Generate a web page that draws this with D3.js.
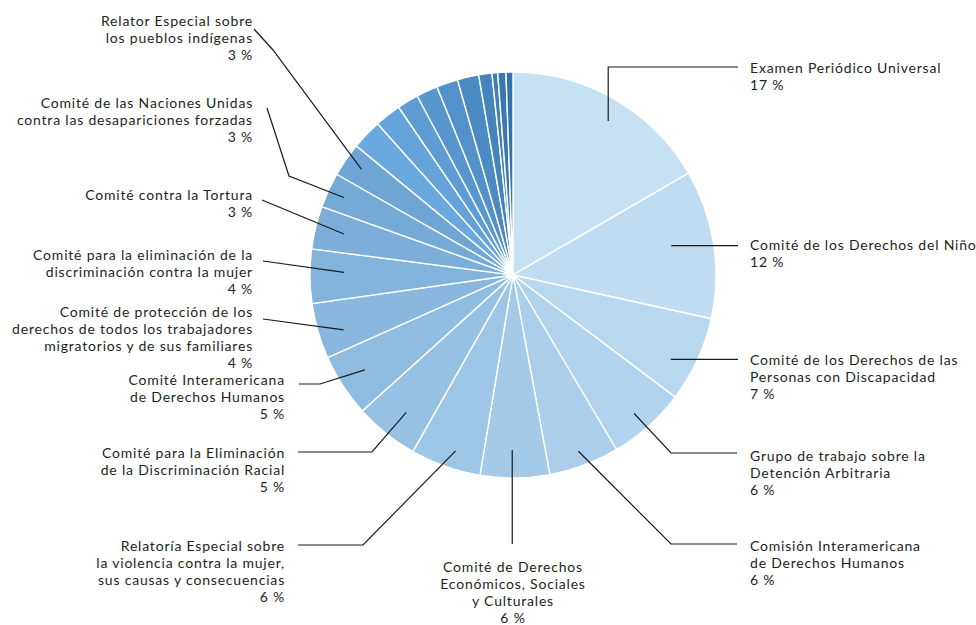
<!DOCTYPE html>
<html>
<head>
<meta charset="utf-8">
<script src="https://cdn.jsdelivr.net/npm/d3@7"></script>
<style>
  html, body { margin: 0; padding: 0; background: #fff; }
  svg { display: block; }
  text { font-family: Lato, "Open Sans", sans-serif; font-size: 14px; letter-spacing: 0.8px; fill: #231f20; }
</style>
</head>
<body>
<svg id="chart" width="976" height="625"></svg>
<script>
// ---- DATA ----
const categories = [
  ["Examen Periódico Universal"],
  ["Comité de los Derechos del Niño"],
  ["Comité de los Derechos de las", "Personas con Discapacidad"],
  ["Grupo de trabajo sobre la", "Detención Arbitraria"],
  ["Comisión Interamericana", "de Derechos Humanos"],
  ["Comité de Derechos", "Económicos, Sociales", "y Culturales"],
  ["Relatoría Especial sobre", "la violencia contra la mujer,", "sus causas y consecuencias"],
  ["Comité para la Eliminación", "de la Discriminación Racial"],
  ["Comité Interamericana", "de Derechos Humanos"],
  ["Comité de protección de los", "derechos de todos los trabajadores", "migratorios y de sus familiares"],
  ["Comité para la eliminación de la", "discriminación contra la mujer"],
  ["Comité contra la Tortura"],
  ["Comité de las Naciones Unidas", "contra las desapariciones forzadas"],
  ["Relator Especial sobre", "los pueblos indígenas"],
  [], [], [], [], [], [], [], [], [], []
];
const values = [16.6, 11.8, 6.8, 6.2, 5.6, 5.5, 5.6, 5.1, 5.0, 4.4, 4.3, 3.4, 2.8, 2.7,
                2.4, 2.1, 1.7, 1.7, 1.7, 1.7, 1.05, 0.45, 0.65, 0.55];

// ---- LAYOUT / STYLE ----
const W = 976, H = 625;
const cx = 513, cy = 275, R = 203;
const colorStops = {domain: [0, 13, 14, 23], range: ["#c6e1f4", "#6ea5d4", "#6aa9df", "#3472ad"]};
const lineH = 17;
// per-label: t = fraction inside slice, r = radius of inner point, elbow, end, text pos, anchor
const labelLayout = [
  {t: 0.53, r: 181, elbow: [null, 67], end: [738, 67], tx: 750, ty: 68.5, anchor: "start"},
  {t: 0.46, r: 161, elbow: null, end: [738, null], tx: 750, ty: 245, anchor: "start"},
  {t: 0.64, r: 179, elbow: null, end: [738, null], tx: 750, ty: 360.5, anchor: "start"},
  {t: 0.53, r: 184, elbow: [671, 453], end: [737, 453], tx: 750, ty: 456.5, anchor: "start"},
  {t: 0.51, r: 188, elbow: [671, 544], end: [737, 544], tx: 750, ty: 546, anchor: "start"},
  {t: 0.54, r: 175, elbow: null, end: [null, 544], tx: 513, ty: 567, anchor: "middle"},
  {t: 0.43, r: 185, elbow: [363, 545], end: [298, 545], tx: 285, ty: 546.5, anchor: "end"},
  {t: 0.45, r: 174, elbow: [372, 452], end: [298, 452], tx: 285, ty: 453, anchor: "end"},
  {t: 0.52, r: 176, elbow: [320, 384], end: [299, 384], tx: 285, ty: 380, anchor: "end"},
  {t: 0.38, r: 178, elbow: null, end: [263, 319], tx: 253, ty: 312, anchor: "end"},
  {t: 0.58, r: 169, elbow: null, end: [263, 261], tx: 253, ty: 255, anchor: "end"},
  {t: 0.51, r: 174, elbow: null, end: [262, 200], tx: 253, ty: 195, anchor: "end"},
  {t: 0.49, r: 186, elbow: [289, 176], end: [267, 108], tx: 253, ty: 103.5, anchor: "end"},
  {t: 0.53, r: 185, elbow: [273, 50], end: [254, 29], tx: 253, ty: 21.5, anchor: "end"}
];

const svg = d3.select("#chart");
svg.append("rect").attr("width", W).attr("height", H).attr("fill", "#fff");

const color = d3.scaleLinear().domain(colorStops.domain).range(colorStops.range)
  .interpolate(d3.interpolateRgb);

const pie = d3.pie().sort(null).value(d => d);
const arcs = pie(values);
const arc = d3.arc().innerRadius(0).outerRadius(R);

const g = svg.append("g").attr("transform", `translate(${cx},${cy})`);
g.selectAll("path.slice").data(arcs).enter().append("path")
  .attr("class", "slice")
  .attr("d", arc)
  .attr("fill", (d, i) => color(i))
  .attr("stroke", "#fff")
  .attr("stroke-width", 1.4)
  .attr("stroke-linejoin", "round");

// leaders + labels
const lines = svg.append("g");
const texts = svg.append("g");
labelLayout.forEach((L, i) => {
  const a = arcs[i];
  const ang = a.startAngle + (a.endAngle - a.startAngle) * L.t;
  const p0 = [cx + L.r * Math.sin(ang), cy - L.r * Math.cos(ang)];
  const pts = [p0];
  if (L.elbow) {
    pts.push([L.elbow[0] == null ? p0[0] : L.elbow[0], L.elbow[1] == null ? p0[1] : L.elbow[1]]);
  }
  const prev = pts[pts.length - 1];
  pts.push([L.end[0] == null ? prev[0] : L.end[0], L.end[1] == null ? prev[1] : L.end[1]]);
  lines.append("path")
    .attr("d", d3.line()(pts))
    .attr("fill", "none")
    .attr("stroke", "#1a1a1a")
    .attr("stroke-width", 1.2);

  const rows = categories[i].concat([`${Math.round(values[i])} %`]);
  const t = texts.append("text")
    .attr("text-anchor", L.anchor);
  rows.forEach((r, k) => {
    t.append("tspan")
      .attr("x", L.tx)
      .attr("y", L.ty + k * lineH)
      .attr("dy", "0.35em")
      .text(r);
  });
});
</script>
</body>
</html>
